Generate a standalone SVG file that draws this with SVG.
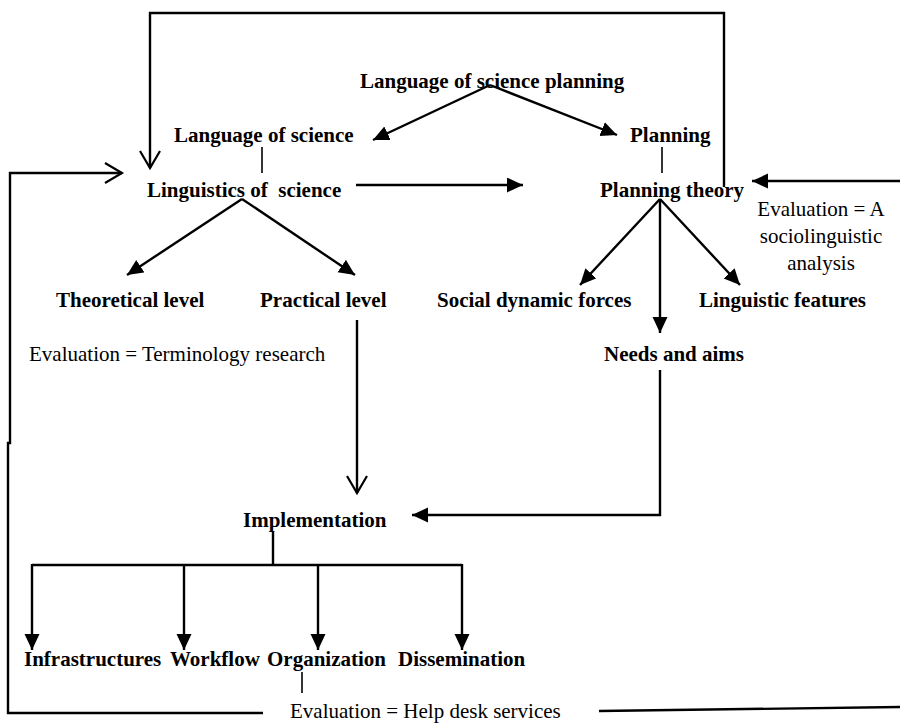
<svg xmlns="http://www.w3.org/2000/svg" width="900" height="724" viewBox="0 0 900 724">
  <style>
    .lbl { font-family: "Liberation Serif", "Times New Roman", serif; font-size: 21px; font-weight: bold; fill: #000; white-space: pre; }
    .note { font-family: "Liberation Serif", "Times New Roman", serif; font-size: 21px; font-weight: normal; fill: #000; }
    .ln { fill: none; stroke: #000; stroke-width: 2.4; }
    .thin { fill: none; stroke: #000; stroke-width: 1.6; }
    .fa { marker-end: url(#solid); }
    .oa { marker-end: url(#open); }
  </style>
  <defs>
    <marker id="solid" markerUnits="userSpaceOnUse" markerWidth="18" markerHeight="16" refX="16" refY="7.5" orient="auto">
      <path d="M0,0 L16,7.5 L0,15 Z" fill="#000"/>
    </marker>
    <marker id="open" markerUnits="userSpaceOnUse" markerWidth="22" markerHeight="24" refX="18" refY="11" orient="auto">
      <path d="M1,1 L18,11 L1,21" fill="none" stroke="#000" stroke-width="2.2"/>
    </marker>
  </defs>
  <rect width="900" height="724" fill="#fff"/>

  <!-- connectors -->
  <g id="connectors">
    <!-- top feedback loop: Planning theory back to Linguistics of science -->
    <path class="ln oa" d="M724,187 L724,13 L150,13 L150,168"/>
    <!-- root split -->
    <path class="ln fa" d="M490,85 L373,140"/>
    <path class="ln fa" d="M490,85 L617,135"/>
    <!-- short links -->
    <path class="thin" d="M262,147 L262,173"/>
    <path class="thin" d="M662,147 L662,173"/>
    <!-- Linguistics of science to Planning theory -->
    <path class="ln fa" d="M356,185 L523,185"/>
    <!-- evaluation input from the right -->
    <path class="ln fa" d="M900,181 L752,181"/>
    <!-- Linguistics of science branches -->
    <path class="ln fa" d="M242,199 L127,275"/>
    <path class="ln fa" d="M242,199 L355,275"/>
    <!-- Planning theory branches -->
    <path class="ln fa" d="M660,199 L580,285"/>
    <path class="ln fa" d="M660,199 L660,333"/>
    <path class="ln fa" d="M660,199 L740,285"/>
    <!-- Practical level to Implementation -->
    <path class="ln oa" d="M357,320 L357,493"/>
    <!-- Needs and aims to Implementation -->
    <path class="ln fa" d="M660,370 L660,515 L412,515"/>
    <!-- Implementation tree -->
    <path class="ln" d="M273,532 L273,565"/>
    <path class="ln" d="M32,565 L462,565"/>
    <path class="ln fa" d="M32,564 L32,650"/>
    <path class="ln fa" d="M184,564 L184,650"/>
    <path class="ln fa" d="M318,564 L318,650"/>
    <path class="ln fa" d="M462,564 L462,650"/>
    <!-- Organization to help desk evaluation -->
    <path class="thin" d="M302,672 L302,693"/>
    <!-- bottom feedback loop -->
    <path class="ln oa" d="M263,713 L8,713 L8,443 L10,443 L10,173 L122,173"/>
    <path class="ln" d="M599,711 L900,707"/>
  </g>

  <!-- nodes -->
  <g id="n-lsp"><text class="lbl" x="360" y="88">Language of science planning</text></g>
  <g id="n-ls"><text class="lbl" x="174" y="142">Language of science</text></g>
  <g id="n-planning"><text class="lbl" x="630" y="142">Planning</text></g>
  <g id="n-lingsci"><text class="lbl" x="147" y="197">Linguistics of  science</text></g>
  <g id="n-ptheory"><text class="lbl" x="600" y="197">Planning theory</text></g>
  <g id="n-eval-a">
    <text class="note" x="821" y="216" text-anchor="middle">Evaluation = A</text>
    <text class="note" x="821" y="243" text-anchor="middle">sociolinguistic</text>
    <text class="note" x="821" y="270" text-anchor="middle">analysis</text>
  </g>
  <g id="n-theoretical"><text class="lbl" x="56" y="307">Theoretical level</text></g>
  <g id="n-practical"><text class="lbl" x="260" y="307">Practical level</text></g>
  <g id="n-social"><text class="lbl" x="437" y="307">Social dynamic forces</text></g>
  <g id="n-lingfeat"><text class="lbl" x="699" y="307">Linguistic features</text></g>
  <g id="n-needs"><text class="lbl" x="604" y="361">Needs and aims</text></g>
  <g id="n-eval-term"><text class="note" x="29" y="361">Evaluation = Terminology research</text></g>
  <g id="n-impl"><text class="lbl" x="243" y="527">Implementation</text></g>
  <g id="n-infra"><text class="lbl" x="24" y="666">Infrastructures</text></g>
  <g id="n-workflow"><text class="lbl" x="170" y="666">Workflow</text></g>
  <g id="n-org"><text class="lbl" x="267" y="666">Organization</text></g>
  <g id="n-dissem"><text class="lbl" x="398" y="666">Dissemination</text></g>
  <g id="n-eval-help"><text class="note" x="290" y="718">Evaluation = Help desk services</text></g>
</svg>
